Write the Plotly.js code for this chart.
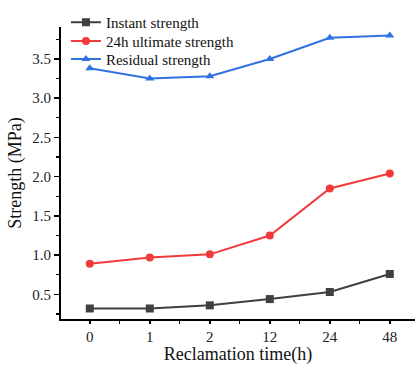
<!DOCTYPE html>
<html><head><meta charset="utf-8">
<script src="https://cdn.plot.ly/plotly-3.0.1.min.js"></script>
<style>html,body{margin:0;padding:0;background:#fff}#c{width:417px;height:365px}</style>
</head><body><div id="c"></div>
<script>
const categories = ["0","1","2","12","24","48"];
const instant = [0.32, 0.32, 0.36, 0.44, 0.53, 0.76];
const ultimate24h = [0.89, 0.97, 1.01, 1.25, 1.85, 2.04];
const residual = [3.38, 3.25, 3.28, 3.50, 3.77, 3.80];
const seriesNames = ["Instant strength", "24h ultimate strength", "Residual strength"];

const xs = categories.map((_, i) => i);
const mk = (y, name, color, symbol, leg) => ({
  x: xs, y: y, name: name, type: "scatter", mode: "lines+markers", legend: leg,
  line: {color: color, width: 2},
  marker: {color: color, symbol: symbol, size: 8}
});
const data = [
  mk(instant, seriesNames[0], "#404040", "square", "legend"),
  mk(ultimate24h, seriesNames[1], "#f23a3a", "circle", "legend2"),
  mk(residual, seriesNames[2], "#2f72e0", "triangle-up", "legend3")
];
const font = "Liberation Serif, Times New Roman, serif";
const legBase = (y) => ({x: 0.014, y: y, xanchor: "left", yanchor: "top",
    font: {family: font, size: 15, color: "#111"},
    bgcolor: "rgba(0,0,0,0)", itemwidth: 30});
const layout = {
  width: 417, height: 365,
  margin: {l: 61, r: 2, t: 27, b: 46},
  paper_bgcolor: "#fff", plot_bgcolor: "#fff",
  showlegend: true,
  legend: legBase(1.072),
  legend2: legBase(1.008),
  legend3: legBase(0.946),
  xaxis: {
    range: [-0.48, 5.42], tickvals: xs, ticktext: categories,
    showgrid: false, zeroline: false, showline: true, linecolor: "#000", linewidth: 2,
    ticks: "outside", ticklen: 3, tickwidth: 1.5, tickcolor: "#000",
    minor: {dtick: 0.5, tick0: 0.5, ticks: "outside", ticklen: 3, tickwidth: 1.2, tickcolor: "#000", showgrid: false},
    tickfont: {family: font, size: 15, color: "#222"},
    title: {text: "Reclamation time(h)", font: {family: font, size: 18, color: "#111"}, standoff: 5}
  },
  yaxis: {
    range: [0.186, 3.907], tickvals: [0.5,1.0,1.5,2.0,2.5,3.0,3.5],
    ticktext: ["0.5","1.0","1.5","2.0","2.5","3.0","3.5"],
    showgrid: false, zeroline: false, showline: true, linecolor: "#000", linewidth: 2,
    ticks: "outside", ticklen: 5, tickwidth: 1.5, tickcolor: "#000",
    minor: {dtick: 0.25, tick0: 0, ticks: "outside", ticklen: 3, tickwidth: 1.2, tickcolor: "#000", showgrid: false},
    tickfont: {family: font, size: 15, color: "#222"},
    title: {text: "Strength (MPa)", font: {family: font, size: 18, color: "#111"}, standoff: 6}
  }
};
Plotly.newPlot("c", data, layout, {displayModeBar: false, staticPlot: true});
</script></body></html>
